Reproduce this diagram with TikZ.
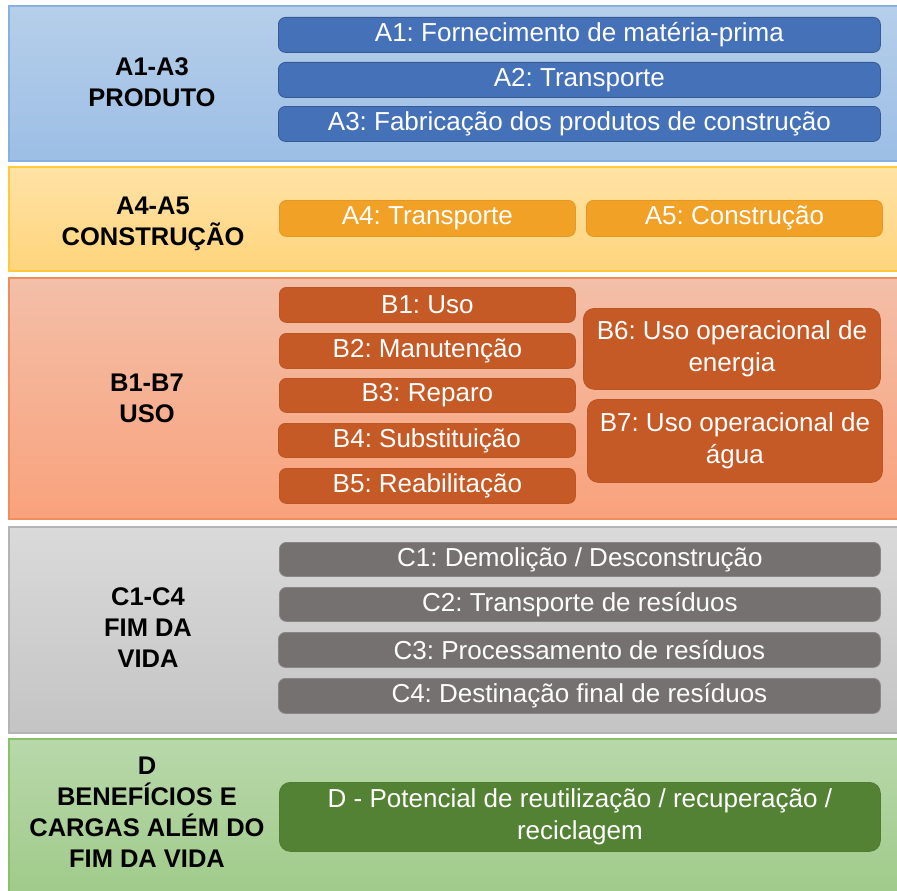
\documentclass[tikz,border=0pt]{standalone}
\usepackage{fontspec}
\setmainfont{Liberation Sans}
\frenchspacing

% panel shadings
\definecolor{blueTop}{HTML}{B6CFEA}
\definecolor{blueBot}{HTML}{9CBEE5}
\definecolor{blueLine}{HTML}{86B0E0}
\definecolor{yelTop}{HTML}{FFE2A6}
\definecolor{yelBot}{HTML}{FFD57C}
\definecolor{yelLine}{HTML}{FFC83D}
\definecolor{oraTop}{HTML}{F3BFA8}
\definecolor{oraBot}{HTML}{F9A27C}
\definecolor{oraLine}{HTML}{F08D5E}
\definecolor{gryTop}{HTML}{DADADA}
\definecolor{gryBot}{HTML}{C4C4C4}
\definecolor{gryLine}{HTML}{B4B4B4}
\definecolor{grnTop}{HTML}{B8D8AA}
\definecolor{grnBot}{HTML}{9FCA89}
\definecolor{grnLine}{HTML}{8BC06A}
% module box fills
\definecolor{blueBox}{HTML}{4571B9}
\definecolor{ambBox}{HTML}{F0A126}
\definecolor{rustBox}{HTML}{C55A26}
\definecolor{greyBox}{HTML}{757171}
\definecolor{greenBox}{HTML}{548235}

\begin{document}
\begin{tikzpicture}[x=1pt,y=-1pt,
  panel/.style={line width=1.5pt},
  phase/.style={font=\fontsize{25.5}{31}\selectfont\bfseries, align=center,
    text=black, inner sep=0pt},
  module/.style={anchor=north west, rounded corners=7pt, inner sep=0pt,
    text=white, align=center, font=\fontsize{26}{32}\selectfont, line width=0.8pt},
  bigmodule/.style={module, rounded corners=11pt},
  bluemod/.style={module, fill=blueBox, draw=blueBox!80!black},
  ambmod/.style={module, fill=ambBox, draw=ambBox!95!black},
  rustmod/.style={module, fill=rustBox, draw=rustBox!95!black},
  greymod/.style={module, fill=greyBox, draw=greyBox!85!white},
  greenmod/.style={bigmodule, fill=greenBox, draw=greenBox!95!black},
]
\useasboundingbox (0,0) rectangle (897,891);
\fill[white] (0,0) rectangle (897,891);

\begin{scope}
\clip (0,0) rectangle (897,891);
% stage panels
\draw[panel, draw=blueLine, top color=blueTop, bottom color=blueBot] (9,6) rectangle (905,161);
\draw[panel, draw=yelLine, top color=yelTop, bottom color=yelBot] (9,167) rectangle (905,271);
\draw[panel, draw=oraLine, top color=oraTop, bottom color=oraBot] (9,278) rectangle (905,519);
\draw[panel, draw=gryLine, top color=gryTop, bottom color=gryBot] (9,527) rectangle (905,733);
\draw[panel, draw=grnLine, top color=grnTop, bottom color=grnBot] (9,739) rectangle (905,900);
\end{scope}

% stage titles
\node[phase] (pA13) at (152,82) {A1-A3\\PRODUTO};
\node[phase] (pA45) at (153,224) {A4-A5\\CONSTRUÇÃO};
\node[phase] (pB) at (147,398) {B1-B7\\USO};
\node[phase] (pC) at (148,628) {C1-C4\\FIM DA\\VIDA};
\node[phase] (pD) at (147,812) {D\\BENEFÍCIOS E\\CARGAS ALÉM DO\\FIM DA VIDA};

% product stage
\node[bluemod, minimum width=602pt, minimum height=35pt] (a1) at (278,17) {A1: Fornecimento de matéria-prima};
\node[bluemod, minimum width=602pt, minimum height=35pt] (a2) at (278,62) {A2: Transporte};
\node[bluemod, minimum width=602pt, minimum height=35pt] (a3) at (278,106) {A3: Fabricação dos produtos de construção};

% construction stage
\node[ambmod, minimum width=296pt, minimum height=36pt] (a4) at (279,200) {A4: Transporte};
\node[ambmod, minimum width=296pt, minimum height=36pt] (a5) at (586,200) {A5: Construção};

% use stage
\node[rustmod, minimum width=296pt, minimum height=35pt] (b1) at (279,287) {B1: Uso};
\node[rustmod, minimum width=296pt, minimum height=35pt] (b2) at (279,333) {B2: Manutenção};
\node[rustmod, minimum width=296pt, minimum height=34pt] (b3) at (279,378) {B3: Reparo};
\node[rustmod, minimum width=297pt, minimum height=34pt] (b4) at (278,423) {B4: Substituição};
\node[rustmod, minimum width=296pt, minimum height=35pt] (b5) at (279,468) {B5: Reabilitação};
\node[rustmod, rounded corners=11pt, minimum width=297pt, minimum height=81pt] (b6) at (583,308) {B6: Uso operacional de\\energia};
\node[rustmod, rounded corners=11pt, minimum width=295pt, minimum height=83pt] (b7) at (587,399) {B7: Uso operacional de\\água};

% end-of-life stage
\node[greymod, minimum width=601pt, minimum height=34pt] (c1) at (279,542) {C1: Demolição / Desconstrução};
\node[greymod, minimum width=601pt, minimum height=34pt] (c2) at (279,587) {C2: Transporte de resíduos};
\node[greymod, minimum width=602pt, minimum height=35pt] (c3) at (278,632) {C3: Processamento de resíduos};
\node[greymod, minimum width=602pt, minimum height=35pt] (c4) at (278,678) {C4: Destinação final de resíduos};

% beyond the system boundary
\node[greenmod, minimum width=601pt, minimum height=69pt] (d) at (279,782) {D - Potencial de reutilização / recuperação /\\reciclagem};
\end{tikzpicture}
\end{document}
